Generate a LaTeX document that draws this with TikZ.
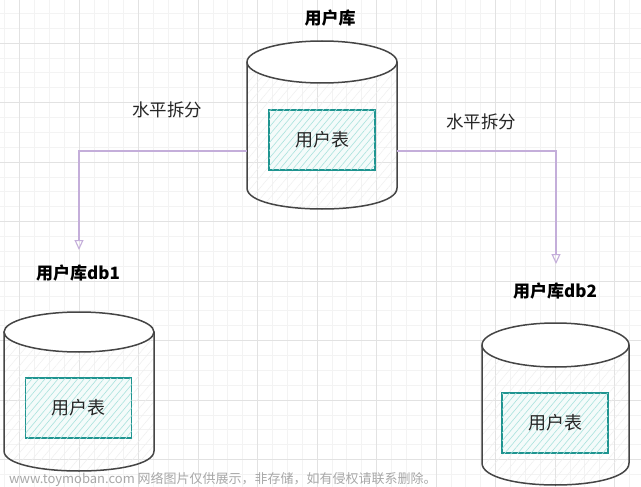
\documentclass[tikz,border=0pt]{standalone}
\usepackage{fontspec}
\newfontfamily\cjk{Noto Sans CJK SC}
\usetikzlibrary{arrows.meta,patterns.meta}
\definecolor{gridminor}{HTML}{F3F3F3}
\definecolor{gridmajor}{HTML}{E2E2E2}
\definecolor{cyl}{HTML}{454545}
\definecolor{cylhatch}{HTML}{EFEFEF}
\definecolor{tblborder}{HTML}{1F9490}
\definecolor{tblhatch}{HTML}{A9E2DD}
\definecolor{tblfill}{HTML}{F4FBFA}
\definecolor{arrowc}{HTML}{C4AEDA}
\definecolor{wmark}{HTML}{A8A8A8}
\newcommand\dbcyl[5]{% left, right, y top-centre, y bottom-centre, ry
  \pgfmathsetmacro\dbrx{(#2-#1)/2}
  \pgfmathsetmacro\dbcx{(#1+#2)/2}
  \pgfmathsetmacro\dbcy{#4+4/3*#5}
  \fill[pattern={Lines[angle=50,distance=7pt,line width=0.5pt]},pattern color=cylhatch]
    (#1,#3) -- (#1,#4) .. controls (#1,\dbcy) and (#2,\dbcy) .. (#2,#4) -- (#2,#3) -- cycle;
  \draw[cylline] (#1,#3) -- (#1,#4) .. controls (#1,\dbcy) and (#2,\dbcy) .. (#2,#4) -- (#2,#3);
  \draw[cylline,fill=white] (\dbcx,#3) ellipse[x radius=\dbrx pt,y radius=#5 pt];
}
\tikzset{
  cylline/.style={draw=cyl,line width=1.5pt,line join=round,line cap=round},
  tbl/.style={draw=tblborder,line width=1.3pt,fill=tblfill,
    postaction={pattern={Lines[angle=50,distance=5pt,line width=0.6pt]},pattern color=tblhatch},
    minimum width=106pt,minimum height=60pt,inner sep=0pt,
    font=\cjk\fontsize{18}{20}\selectfont,text=black!85},
  title/.style={font=\cjk\bfseries\fontsize{17}{19}\selectfont,text=black,inner sep=0pt},
  lbl/.style={font=\cjk\fontsize{17.5}{19}\selectfont,text=black!85,inner sep=0pt},
  conn/.style={draw=arrowc,line width=1.1pt,-{Triangle[open,length=10pt,width=9pt]}},
}
\begin{document}
\begin{tikzpicture}[x=1pt,y=-1pt]
\useasboundingbox (0,0) rectangle (641,487);
\fill[white] (0,0) rectangle (641,487);
% grid
\foreach \i in {0,...,42} {\draw[gridminor,line width=0.6pt] ({4.625+14.875*\i},0) -- ++(0,487);}
\foreach \j in {0,...,31} {\draw[gridminor,line width=0.6pt] (0,{13.25+14.875*\j}) -- ++(641,0);}
\foreach \i in {0,...,10} {\draw[gridmajor,line width=0.7pt] ({19.5+59.5*\i},0) -- ++(0,487);}
\foreach \j in {1,...,8} {\draw[gridmajor,line width=0.7pt] (0,{-16.5+59.5*\j}) -- ++(641,0);}

% cylinders
\dbcyl{247}{397}{62}{188}{21}
\dbcyl{4}{154}{332}{451}{20}
\dbcyl{482}{629}{345}{463}{22}

% tables
\node[tbl] (t0) at (322,140) {用户表};
\node[tbl] (t1) at (78.5,408) {用户表};
\node[tbl] (t2) at (555,423) {用户表};

% titles
\node[title] (h0) at (330,18) {用户库};
\node[title] (h1) at (78,273) {用户库db1};
\node[title] (h2) at (555,291) {用户库db2};

% labels
\node[lbl] (l1) at (167,110) {水平拆分};
\node[lbl] (l2) at (481,122) {水平拆分};

% connectors
\coordinate (mL) at (247,151);
\coordinate (mR) at (397,151);
\coordinate (e1) at (79,250);
\coordinate (e2) at (556,264);
\draw[conn] (mL) -| (e1);
\draw[conn] (mR) -| (e2);

% watermark
\node[anchor=west,inner sep=0pt,font=\cjk\fontsize{13}{15}\selectfont,text=wmark] (wm) at (9,479)
  {www.toymoban.com 网络图片仅供展示，非存储，如有侵权请联系删除。};
\end{tikzpicture}
\end{document}
